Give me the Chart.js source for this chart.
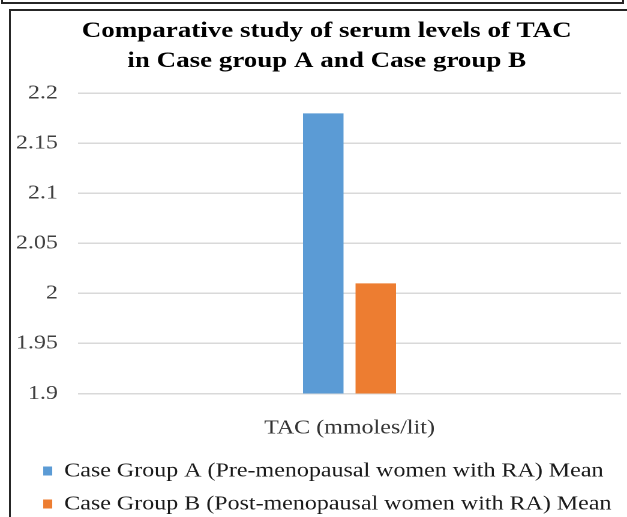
<!DOCTYPE html>
<html>
<head>
<meta charset="utf-8">
<script src="https://cdn.jsdelivr.net/npm/chart.js@4/dist/chart.umd.min.js"></script>
<style>
  html, body { margin: 0; padding: 0; background: #fff; overflow: hidden; }
  body { width: 627px; height: 517px; position: relative; }
  .frame { position: absolute; box-sizing: border-box; border: 2px solid #262626; }
  #prevFrame { left: 1px; top: -20px; width: 623px; height: 24px; }
  #chartFrame { left: 9px; top: 9px; width: 700px; height: 600px; }
  #c { position: absolute; left: 0; top: 0; transform: scaleX(1.2); transform-origin: 0 0; }
</style>
</head>
<body>
<div class="frame" id="prevFrame"></div>
<div class="frame" id="chartFrame"></div>
<canvas id="c" width="523" height="524" style="width:523px;height:524px"></canvas>
<script>
// Chart text
const titleLines = ['Comparative study of serum levels of TAC', 'in Case group A and Case group B'];
const categories = ['TAC (mmoles/lit)'];
const seriesNames = [
  'Case Group A (Pre-menopausal women with RA) Mean',
  'Case Group B (Post-menopausal women with RA) Mean'
];

// Mean serum TAC per group
const groupAMeans = [2.18];
const groupBMeans = [2.01];

// Value axis
const yTickValues = [1.9, 1.95, 2, 2.05, 2.1, 2.15, 2.2];
const yTickLabels = ['1.9', '1.95', '2', '2.05', '2.1', '2.15', '2.2'];

const serif = "'Liberation Serif', 'Times New Roman', serif";

// Indents the legend rows so the swatches sit under the value labels,
// and centres the title over the plot rather than the whole canvas
const boxIndent = {
  id: 'boxIndent',
  afterLayout(chart) {
    if (chart.legend) chart.legend.left += 13;
    const t = chart.titleBlock;
    if (t) { t.left += 8.5; t.right += 8.5; }
  }
};

new Chart(document.getElementById('c'), {
  type: 'bar',
  data: {
    labels: categories,
    datasets: [
      { label: seriesNames[0], data: groupAMeans, backgroundColor: '#5b9bd5', borderWidth: 0 },
      { label: seriesNames[1], data: groupBMeans, backgroundColor: '#ed7d31', borderWidth: 0 }
    ]
  },
  plugins: [boxIndent],
  options: {
    responsive: false,
    animation: false,
    devicePixelRatio: 2,
    categoryPercentage: 0.1934,
    barPercentage: 0.771,
    layout: { padding: { left: 10, right: 5.5, top: 0, bottom: 0 } },
    scales: {
      x: {
        grid: { display: false },
        border: { display: false },
        ticks: {
          padding: 14.7,
          color: '#333333',
          font: { family: serif, size: 20 }
        },
        afterFit: s => { s.height = 54.5; }
      },
      y: {
        min: 1.9,
        max: 2.2,
        border: { display: false },
        grid: { color: '#d9d9d9', lineWidth: 1.5, drawTicks: false },
        afterBuildTicks: s => { s.ticks = yTickValues.map(v => ({ value: v })); },
        ticks: {
          padding: 16.7,
          color: '#404040',
          font: { family: serif, size: 20 },
          callback: (v, i) => yTickLabels[i]
        },
        afterFit: s => { s.width = 55; }
      }
    },
    plugins: {
      title: {
        display: true,
        text: titleLines,
        color: '#000000',
        font: { family: serif, size: 22.5, weight: 'bold', lineHeight: 30 / 22.5 },
        padding: { top: 16, bottom: 17.3 }
      },
      legend: {
        position: 'bottom',
        align: 'start',
        labels: {
          color: '#1a1a1a',
          font: { family: serif, size: 20 },
          boxWidth: 7.5,
          boxHeight: 9,
          padding: 13
        }
      },
      tooltip: { enabled: false }
    }
  }
});
</script>
</body>
</html>
